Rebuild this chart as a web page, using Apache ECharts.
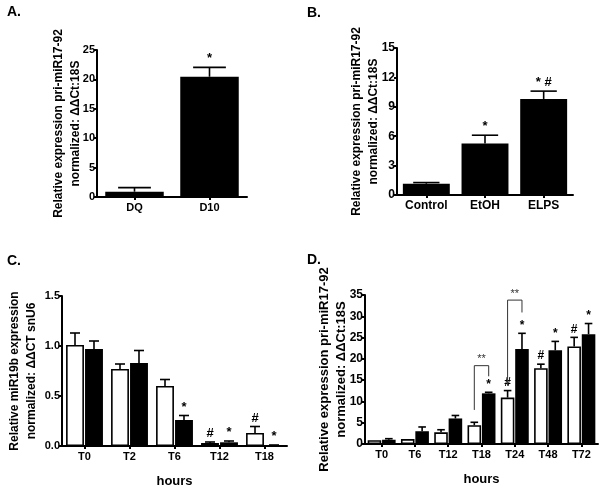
<!DOCTYPE html>
<html><head><meta charset="utf-8">
<script src="https://cdn.jsdelivr.net/npm/echarts@6/dist/echarts.min.js"></script>
<style>html,body{margin:0;padding:0;background:#fff}#c{width:600px;height:490px}</style>
</head><body><div id="c"></div>
<script>
// ---- Panel A ----
const catsA = ['DQ', 'D10'];
const valsA = [0.9, 20.45];
const semA = [0.7, 1.6];
const annA = ['', '*'];
// ---- Panel B ----
const catsB = ['Control', 'EtOH', 'ELPS'];
const valsB = [1.15, 5.25, 9.8];
const semB = [0.12, 0.85, 0.8];
const annB = ['', '*', '* #'];
// ---- Panel C ----
const catsC = ['T0', 'T2', 'T6', 'T12', 'T18'];
const valsCwhite = [1.01, 0.77, 0.60, 0.03, 0.13];
const semCwhite = [0.12, 0.05, 0.065, 0.01, 0.065];
const valsCblack = [0.97, 0.83, 0.26, 0.037, 0.007];
const semCblack = [0.08, 0.125, 0.045, 0.013, 0.003];
const annCwhite = ['', '', '', '#', '#'];
const annCblack = ['', '', '*', '*', '*'];
// ---- Panel D ----
const catsD = ['T0', 'T6', 'T12', 'T18', 'T24', 'T48', 'T72'];
const valsDwhite = [0.9, 1.15, 2.75, 4.4, 10.9, 17.8, 22.9];
const semDwhite = [0, 0, 0.6, 0.7, 1.65, 0.95, 2.15];
const valsDblack = [1.0, 3.0, 6.0, 11.9, 22.3, 22.0, 25.8];
const semDblack = [0.25, 1.0, 0.7, 0.25, 3.7, 2.1, 2.5];
const annDwhite = ['', '', '', '', '#', '#', '#'];
const annDblack = ['', '', '', '*', '*', '*', '*'];
// brackets: [category index, left end value, top value, right end value]
const bracketsD = [[3, 8.0, 18.4, 15.9], [4, 13.7, 33.8, 30.9]];
const bracketTextD = ['**', '**'];

const FONT = 'Liberation Sans';

function offsetFor(band, gap, bg, n, idx) {
  const usable = band * (1 - gap);
  const bw = usable / (n + (n - 1) * bg);
  return { off: -usable / 2 + idx * bw * (1 + bg) + bw / 2, bw: bw };
}

function errSeries(xi, vals, sems, anns, n, idx, gap, bg, fs) {
  const data = vals.map((v, i) => [i, v, v + sems[i]]);
  return {
    type: 'custom', xAxisIndex: xi, yAxisIndex: xi, z: 5, silent: true,
    data: data,
    renderItem: function (params, api) {
      const i = api.value(0);
      const p0 = api.coord([i, api.value(1)]);
      const p1 = api.coord([i, api.value(2)]);
      const band = api.size([1, 0])[0];
      const o = offsetFor(band, gap, bg, n, idx);
      const x = p0[0] + o.off;
      const cw = o.bw * 0.28;
      const children = [];
      if (api.value(2) > api.value(1)) {
        children.push({ type: 'line', shape: { x1: x, y1: p0[1], x2: x, y2: p1[1] }, style: { stroke: '#000', lineWidth: 1.6 } });
        children.push({ type: 'line', shape: { x1: x - cw, y1: p1[1], x2: x + cw, y2: p1[1] }, style: { stroke: '#000', lineWidth: 1.6 } });
      }
      const t = anns[params.dataIndex];
      if (t) {
        children.push({ type: 'text', style: { text: t, x: x, y: p1[1] - 2, align: 'center', verticalAlign: 'bottom', font: 'bold ' + fs + 'px ' + FONT, fill: '#000' } });
      }
      return { type: 'group', children: children };
    }
  };
}

function barSeries(xi, vals, white, gap, bg) {
  return {
    type: 'bar', xAxisIndex: xi, yAxisIndex: xi, data: vals,
    barCategoryGap: gap, barGap: bg, silent: true,
    itemStyle: white ? { color: '#fff', borderColor: '#000', borderWidth: 1.6 } : { color: '#000' }
  };
}

function yAxis(gi, max, interval, name, nameGap, nfs, lfs, fmt) {
  return {
    gridIndex: gi, type: 'value', min: 0, max: max, interval: interval,
    name: name, nameLocation: 'middle', nameRotate: 90, nameGap: nameGap, nameMoveOverlap: false,
    nameTextStyle: { fontFamily: FONT, fontWeight: 'bold', fontSize: nfs, color: '#000', lineHeight: 17 },
    axisLine: { show: true, lineStyle: { color: '#000', width: 2 } },
    axisTick: { show: true, length: 3, lineStyle: { color: '#000', width: 2 } },
    axisLabel: { fontFamily: FONT, fontWeight: 'bold', fontSize: lfs, color: '#000', margin: 2, formatter: fmt },
    splitLine: { show: false }
  };
}

function xAxis(gi, cats, lfs, name) {
  return {
    gridIndex: gi, type: 'category', data: cats,
    name: name || '', nameLocation: 'middle', nameGap: 29, nameMoveOverlap: false,
    nameTextStyle: { fontFamily: FONT, fontWeight: 'bold', fontSize: 13, color: '#000' },
    axisLine: { show: true, lineStyle: { color: '#000', width: 2 } },
    axisTick: { show: true, alignWithLabel: true, length: 3, lineStyle: { color: '#000', width: 2 } },
    axisLabel: { fontFamily: FONT, fontWeight: 'bold', fontSize: lfs, color: '#000', margin: 5 }
  };
}

const bracketSeries = {
  type: 'custom', xAxisIndex: 3, yAxisIndex: 3, z: 6, silent: true,
  data: bracketsD,
  renderItem: function (params, api) {
    const i = api.value(0);
    const band = api.size([1, 0])[0];
    const oL = offsetFor(band, 0.16, 0.06, 2, 0);
    const oR = offsetFor(band, 0.16, 0.06, 2, 1);
    const pl = api.coord([i, api.value(1)]);
    const pt = api.coord([i, api.value(2)]);
    const pr = api.coord([i, api.value(3)]);
    const xl = pl[0] + oL.off, xr = pl[0] + oR.off;
    return { type: 'group', children: [
      { type: 'polyline', shape: { points: [[xl, pl[1]], [xl, pt[1]], [xr, pt[1]], [xr, pr[1]]] }, style: { stroke: '#333', lineWidth: 1, fill: null } },
      { type: 'text', style: { text: bracketTextD[params.dataIndex], x: (xl + xr) / 2, y: pt[1] - 1, align: 'center', verticalAlign: 'bottom', font: '11px ' + FONT, fill: '#333' } }
    ] };
  }
};

const chart = echarts.init(document.getElementById('c'), null, { renderer: 'canvas' });
const titleStyle = { fontFamily: FONT, fontWeight: 'bold', fontSize: 14, color: '#000' };
chart.setOption({
  animation: false,
  backgroundColor: '#fff',
  title: [
    { text: 'A.', left: 2, top: 0, textStyle: titleStyle },
    { text: 'B.', left: 302, top: 1, textStyle: titleStyle },
    { text: 'C.', left: 2, top: 249, textStyle: titleStyle },
    { text: 'D.', left: 302, top: 248, textStyle: titleStyle }
  ],
  grid: [
    { left: 97, top: 50, width: 150, height: 147 },
    { left: 397, top: 48, width: 176, height: 147 },
    { left: 62, top: 296, width: 225, height: 150 },
    { left: 365, top: 295, width: 233, height: 149 }
  ],
  xAxis: [
    xAxis(0, catsA, 11),
    xAxis(1, catsB, 12),
    xAxis(2, catsC, 11, 'hours'),
    xAxis(3, catsD, 11, 'hours')
  ],
  yAxis: [
    yAxis(0, 25, 5, 'Relative expression pri-miR17-92\nnormalized: ΔΔCt:18S', 13, 12, 11),
    yAxis(1, 15, 3, 'Relative expression pri-miR17-92\nnormalized: ΔΔCt:18S', 15, 12, 12),
    yAxis(2, 1.5, 0.5, 'Relative miR19b expression\nnormalized: ΔΔCT snU6', 22, 12, 11, v => v.toFixed(1)),
    yAxis(3, 35, 5, 'Relative expression pri-miR17-92\nnormalized: ΔΔCt:18S', 15, 13, 12)
  ],
  series: [
    barSeries(0, valsA, false, '22%', '0%'),
    errSeries(0, valsA, semA, annA, 1, 0, 0.22, 0, 13),
    barSeries(1, valsB, false, '20%', '0%'),
    errSeries(1, valsB, semB, annB, 1, 0, 0.20, 0, 13),
    barSeries(2, valsCwhite, true, '18%', '6%'),
    barSeries(2, valsCblack, false, '18%', '6%'),
    errSeries(2, valsCwhite, semCwhite, annCwhite, 2, 0, 0.18, 0.06, 13),
    errSeries(2, valsCblack, semCblack, annCblack, 2, 1, 0.18, 0.06, 13),
    barSeries(3, valsDwhite, true, '16%', '6%'),
    barSeries(3, valsDblack, false, '16%', '6%'),
    errSeries(3, valsDwhite, semDwhite, annDwhite, 2, 0, 0.16, 0.06, 12),
    errSeries(3, valsDblack, semDblack, annDblack, 2, 1, 0.16, 0.06, 12),
    bracketSeries
  ]
});
</script></body></html>
